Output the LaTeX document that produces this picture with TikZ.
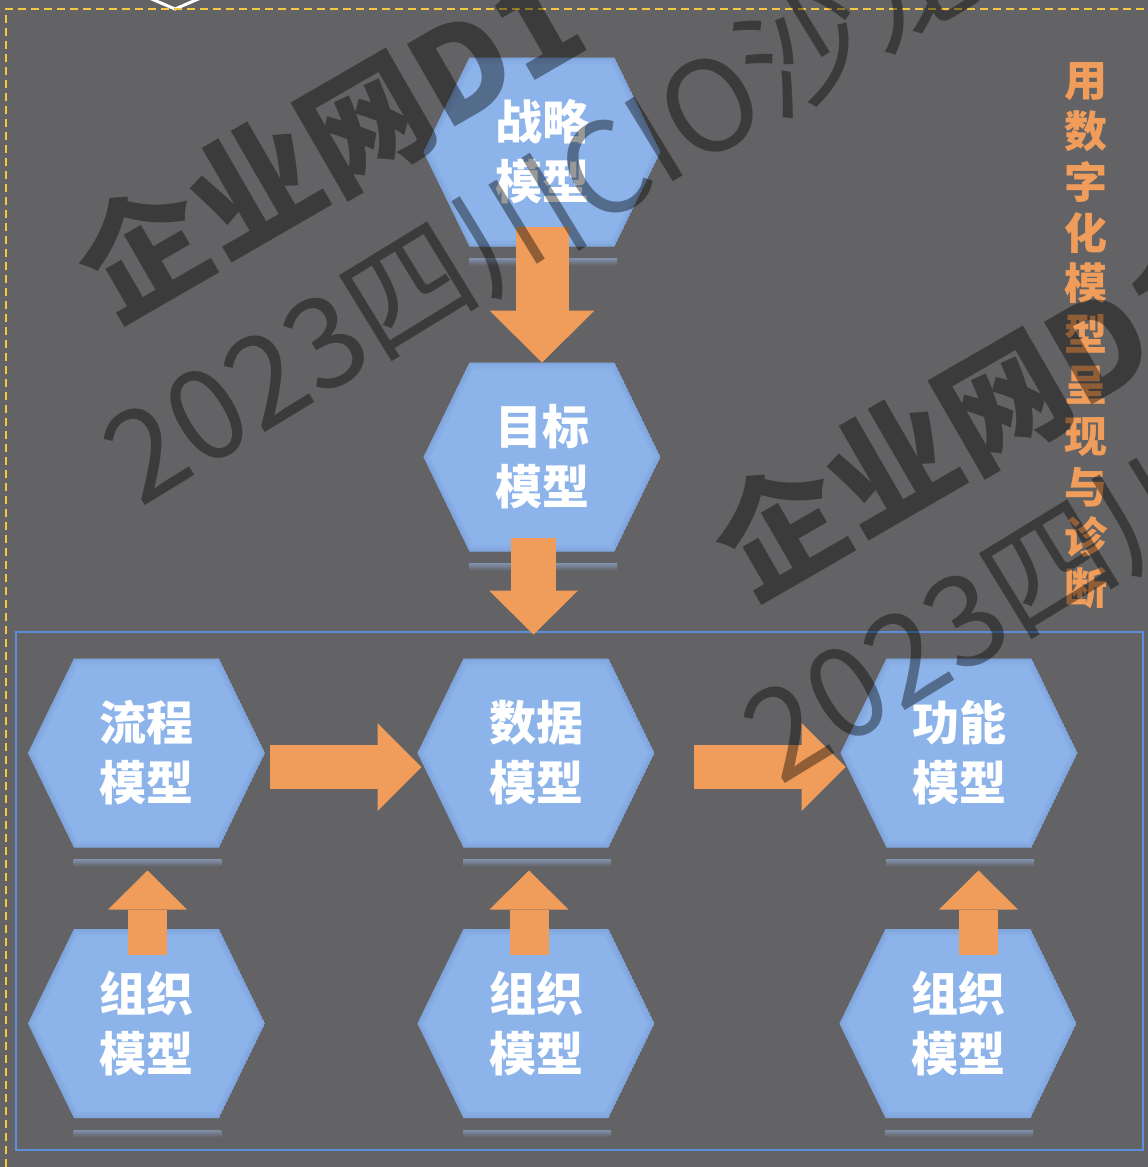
\documentclass[tikz,border=0pt]{standalone}
\usepackage{fontspec}
\newfontfamily\cjk{Noto Sans CJK SC}
\usetikzlibrary{arrows.meta,calc}
\definecolor{bg}{RGB}{99,99,101}
\definecolor{hexblue}{RGB}{141,180,234}
\definecolor{hexedge}{RGB}{95,130,185}
\definecolor{arrorange}{RGB}{240,157,91}
\definecolor{frameblue}{RGB}{91,143,219}
\definecolor{dashyellow}{RGB}{245,200,66}
\definecolor{reflectc}{RGB}{128,143,170}

\newcommand\hexoutline{(path picture bounding box.west) -- ([xshift=46pt]path picture bounding box.north west) -- ([xshift=-46pt]path picture bounding box.north east) -- (path picture bounding box.east) -- ([xshift=-46pt]path picture bounding box.south east) -- ([xshift=46pt]path picture bounding box.south west) -- cycle}

\tikzset{
  hexnode/.style={rectangle, fill=bg, minimum width=237pt, minimum height=189pt,
    inner sep=0pt, outer sep=0pt, text=white, align=center,
    font=\cjk\bfseries\fontsize{47}{60}\selectfont,
    path picture={\begin{scope}\clip \hexoutline; \fill[hexblue] \hexoutline;
      \draw[hexedge, line width=12pt, opacity=0.12] \hexoutline;
      \draw[hexedge, line width=5pt, opacity=0.15] \hexoutline;\end{scope}}},
  reflectbar/.style={top color=reflectc, bottom color=bg, draw=none},
  blockarrow/.style args={#1/#2/#3}{draw=arrorange, line width=#1,
    -{Triangle[length=#3, width=#2, line width=0pt]}},
  wm/.style={text=black, text opacity=0.4, inner sep=0pt, rotate=30, anchor=west},
}

\begin{document}
\begin{tikzpicture}[x=1pt,y=-1pt]
\useasboundingbox (0,0) rectangle (1148,1167);
\fill[bg] (0,0) rectangle (1148,1167);
\clip (0,0) rectangle (1148,1167);

% top decoration and dashed border
\draw[white, line width=3pt, line join=miter] (147,-3) -- (175,9) -- (203,-3);
\draw[dashyellow, line width=2.4pt, dash pattern=on 8pt off 5pt] (6,1180) -- (6,9) -- (1160,9);

% frame around lower part
\node[draw=frameblue, line width=2pt, minimum width=1127pt, minimum height=518pt, inner sep=0pt] (frame) at (579.5,891) {};

% hexagons
\node[hexnode] (strat) at (542,152) {战略\\模型};
\node[hexnode] (goal) at (542,457) {目标\\模型};
\node[hexnode] (proc) at (146.5,753) {流程\\模型};
\node[hexnode] (data) at (536,753) {数据\\模型};
\node[hexnode] (func) at (959,753) {功能\\模型};
\node[hexnode] (org1) at (146.5,1023.5) {组织\\模型};
\node[hexnode] (org2) at (536,1023.5) {组织\\模型};
\node[hexnode] (org3) at (958,1023.5) {组织\\模型};

\foreach \n in {strat,goal,proc,data,func,org1,org2,org3}
  \fill[reflectbar] ([xshift=-73pt,yshift=-12pt]\n.south) rectangle ([xshift=75pt,yshift=-19pt]\n.south);

% arrows
\draw[blockarrow=53pt/105pt/52pt] ([yshift=20pt]strat.south) -- (goal.north);
\draw[blockarrow=45pt/89pt/44pt] ([xshift=-8.5pt,yshift=13.5pt]goal.south) -- ([xshift=-2.5pt,yshift=24pt]data.north);
\draw[blockarrow=44pt/88pt/44pt] ([xshift=5pt,yshift=-14pt]proc.east) -- ([xshift=4pt,yshift=-14pt]data.west);
\draw[blockarrow=44pt/88pt/44pt] ([xshift=39pt,yshift=-14pt]data.east) -- ([xshift=5pt,yshift=-14pt]func.west);
\draw[blockarrow=39pt/79pt/39pt] ([xshift=1pt,yshift=-26pt]org1.north) -- ([xshift=1pt,yshift=-23pt]proc.south);
\draw[blockarrow=39pt/79pt/39pt] ([xshift=-7pt,yshift=-26pt]org2.north) -- ([xshift=-7pt,yshift=-23pt]data.south);
\draw[blockarrow=39pt/79pt/39pt] ([xshift=20.5pt,yshift=-26pt]org3.north) -- ([xshift=19.5pt,yshift=-23pt]func.south);

% side caption
\node[text=arrorange, font=\cjk\bfseries\fontsize{43}{50.8}\selectfont, align=center, inner sep=0pt] (side) at (1086,336)
  {用\\数\\字\\化\\模\\型\\呈\\现\\与\\诊\\断};

% watermark
\node[wm, font=\cjk\bfseries\fontsize{128}{128}\selectfont] (wma) at (88,282) {企业网D1};
\node[wm, font=\cjk\fontsize{126}{126}\selectfont, rotate=1.5] (wmb) at (116,468) {2023四川CIO沙龙};
\node[wm, font=\cjk\bfseries\fontsize{128}{128}\selectfont] (wmc) at (725,560) {企业网D1};
\node[wm, font=\cjk\fontsize{126}{126}\selectfont, rotate=1.5] (wmd) at (756,746) {2023四川CIO沙龙};
\end{tikzpicture}
\end{document}
